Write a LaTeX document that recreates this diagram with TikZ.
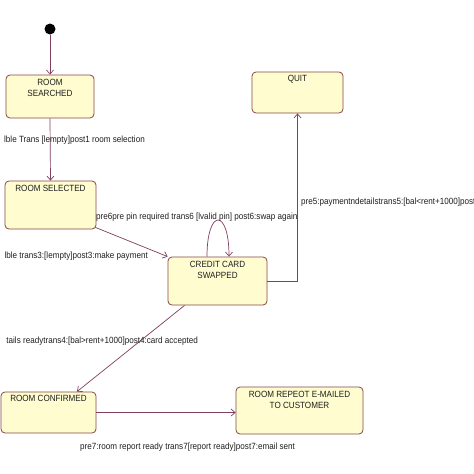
\documentclass[tikz,border=0pt]{standalone}
\usepackage{fontspec}
\setmainfont{Liberation Sans}[FakeStretch=0.9]
\usetikzlibrary{arrows.meta}
\definecolor{boxfill}{RGB}{255,253,208}
\definecolor{boxline}{RGB}{135,70,70}
\definecolor{conn}{RGB}{128,62,96}
\definecolor{txt}{RGB}{30,30,30}
\begin{document}
\begin{tikzpicture}[x=1pt,y=-1pt,
  statebox/.style={draw=boxline, fill=boxfill, line width=0.8pt, rounded corners=4pt, rectangle, inner sep=0pt},
  boxtext/.style={anchor=north, align=center, text=txt, inner sep=0pt, font=\fontsize{9}{11.5}\selectfont},
  lbl/.style={text=txt, inner sep=0pt, font=\fontsize{9}{11}\selectfont},
  arr/.style={draw=conn, line width=0.7pt, -{Straight Barb[length=4pt,width=7pt]}}]
\useasboundingbox (0,0) rectangle (474,474);
\fill[white] (0,0) rectangle (474,474);

% initial state
\node[circle, fill=black, minimum size=11pt, inner sep=0pt] (init) at (50,29) {};

% states
\node[statebox, minimum width=88pt, minimum height=43pt] (searched) at (50,96.5) {};
\node[boxtext] (searchedT) at ([yshift=-4pt]searched.north) {ROOM\\SEARCHED};

\node[statebox, minimum width=91pt, minimum height=48pt] (selected) at (50.5,205) {};
\node[boxtext] (selectedT) at ([yshift=-4pt]selected.north) {ROOM SELECTED};

\node[statebox, minimum width=91pt, minimum height=41pt] (quit) at (297.5,92.5) {};
\node[boxtext] (quitT) at ([yshift=-3pt]quit.north) {QUIT};

\node[statebox, minimum width=99pt, minimum height=48pt] (credit) at (217.5,281) {};
\node[boxtext] (creditT) at ([yshift=-4pt]credit.north) {CREDIT CARD\\SWAPPED};

\node[statebox, minimum width=95pt, minimum height=41pt] (confirmed) at (48.5,412.5) {};
\node[boxtext] (confirmedT) at ([yshift=-3pt]confirmed.north) {ROOM CONFIRMED};

\node[statebox, minimum width=127pt, minimum height=47pt] (repeot) at (299.5,410.5) {};
\node[boxtext] (repeotT) at ([yshift=-4pt]repeot.north) {ROOM REPEOT E-MAILED\\TO CUSTOMER};

% connectors
\draw[arr] (init) -- (searched.north);
\draw[arr] (searched.south) -- (selected.north);
\draw[arr] ([yshift=2pt,xshift=-1pt]selected.south east) -- (credit.north west);
\coordinate (loopA) at ([xshift=-10.5pt]credit.north);
\coordinate (loopB) at ([xshift=11.5pt]credit.north);
\draw[arr] (loopA) .. controls (207,208) and (229,208) .. (loopB);
\draw[arr] (credit.east) -| (quit.south);
\coordinate (c4a) at ([xshift=17pt]credit.south west);
\coordinate (c4b) at ([xshift=28.5pt]confirmed.north);
\draw[arr] (c4a) -- (c4b);
\draw[arr] (confirmed.east) -- (confirmed.east -| repeot.west);

% labels
\node[lbl, anchor=east] (l1) at (145,140) {lble Trans [lempty]post1 room selection};
\node[lbl, anchor=west] (l6) at (96,217) {pre6pre pin required trans6 [lvalid pin] post6:swap again};
\node[lbl, anchor=east] (l3) at (148,256) {lble trans3:[lempty]post3:make payment};
\node[lbl, anchor=west] (l5) at (301,202) {pre5:paymentndetailstrans5:[bal<rent+1000]post5};
\node[lbl, anchor=east] (l4) at (198,341) {tails readytrans4:[bal>rent+1000]post4:card accepted};
\node[lbl, anchor=west] (l7) at (80,447) {pre7:room report ready trans7[report ready]post7:email sent};
\end{tikzpicture}
\end{document}
